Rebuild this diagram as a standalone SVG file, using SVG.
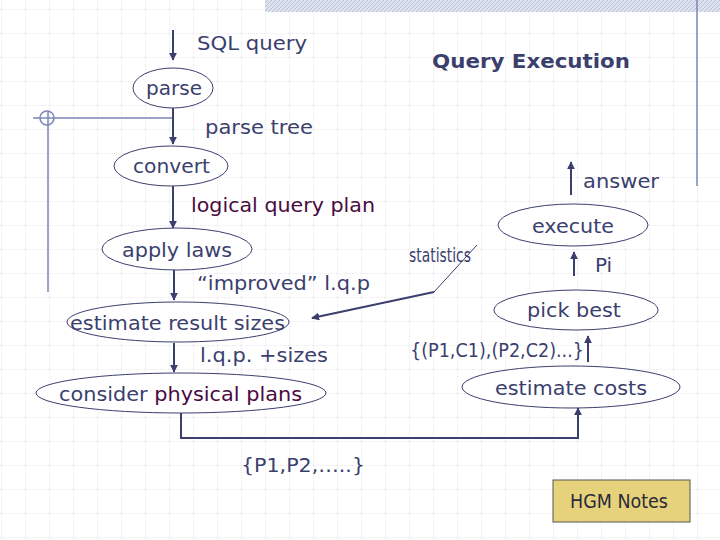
<svg xmlns="http://www.w3.org/2000/svg" width="720" height="540" viewBox="0 0 720 540">
<defs>
<pattern id="grid" width="24" height="24" patternUnits="userSpaceOnUse" x="2" y="10"><path d="M24 0V24M0 24H24" fill="none" stroke="#d4d4dc" stroke-width="1" stroke-dasharray="1,1"/></pattern>
<pattern id="hatch" width="4" height="4" patternUnits="userSpaceOnUse"><rect width="4" height="4" fill="#dfe3ef"/><path d="M0 4L4 0" stroke="#b8c0d8" stroke-width="1"/></pattern>
<marker id="ah" viewBox="0 0 10 10" refX="9" refY="5" markerWidth="4" markerHeight="4" orient="auto"><path d="M0 0L10 5L0 10z" fill="#3b3f6e"/></marker>
</defs>
<style>
text{font-family:"DejaVu Sans",sans-serif;fill:#3b3f6e;font-size:20px}
.e{fill:#fff;stroke:#3b3f6e;stroke-width:1}
.c{fill:none;stroke:#3b3f6e;stroke-width:2;marker-end:url(#ah)}
.p{fill:#4a0a3f}
</style>
<rect width="720" height="540" fill="#fff"/>
<rect width="720" height="540" fill="url(#grid)"/>
<rect x="265" y="0" width="455" height="12" fill="url(#hatch)"/>
<g id="decor" fill="none" stroke="#7c86b8" stroke-width="1.5">
<path d="M697 0V186"/><path d="M33 118H173"/><path d="M48 112V292"/><circle cx="47" cy="118" r="7"/>
</g>
<text x="432" y="68" font-weight="bold" font-size="22" textLength="198" lengthAdjust="spacingAndGlyphs">Query Execution</text>
<g id="connectors">
<path class="c" d="M173 30V60"/>
<path class="c" d="M173 108V144"/>
<path class="c" d="M173 186V228"/>
<path class="c" d="M174 270V300"/>
<path class="c" d="M174 343V372"/>
<path class="c" d="M571 195V162"/>
<path class="c" d="M574 276V252"/>
<path class="c" d="M588 362V336"/>
<path class="c" d="M181 413V438H578V408" stroke-width="1.5"/>
<path d="M477 245L434 292" fill="none" stroke="#3b3f6e" stroke-width="1"/>
<path class="c" d="M434 292L312 318" stroke-width="2.5"/>
</g>
<text x="197" y="50" textLength="110" lengthAdjust="spacingAndGlyphs">SQL query</text>
<text x="205" y="134" textLength="108" lengthAdjust="spacingAndGlyphs">parse tree</text>
<text x="191" y="212" class="p" textLength="184" lengthAdjust="spacingAndGlyphs">logical query plan</text>
<text x="197" y="290" textLength="173" lengthAdjust="spacingAndGlyphs">“improved” l.q.p</text>
<text x="200" y="362" textLength="128" lengthAdjust="spacingAndGlyphs">l.q.p. +sizes</text>
<text x="583" y="188" textLength="76" lengthAdjust="spacingAndGlyphs">answer</text>
<text x="595" y="272">Pi</text>
<text x="409" y="262" font-size="14" textLength="62" lengthAdjust="spacingAndGlyphs">statistics</text>
<text x="410" y="357" font-size="18" textLength="174" lengthAdjust="spacingAndGlyphs">{(P1,C1),(P2,C2)...}</text>
<text x="241" y="472" textLength="124" lengthAdjust="spacingAndGlyphs">{P1,P2,…..}</text>
<g id="parse"><ellipse class="e" cx="173" cy="88" rx="40" ry="20"/><text x="146" y="95" textLength="56" lengthAdjust="spacingAndGlyphs">parse</text></g>
<g id="convert"><ellipse class="e" cx="171" cy="166" rx="57" ry="20"/><text x="133" y="173" textLength="77" lengthAdjust="spacingAndGlyphs">convert</text></g>
<g id="apply"><ellipse class="e" cx="177" cy="249" rx="75" ry="21"/><text x="122" y="257" textLength="110" lengthAdjust="spacingAndGlyphs">apply laws</text></g>
<g id="estsizes"><ellipse class="e" cx="178" cy="322" rx="111" ry="20"/><text x="70" y="330" textLength="215" lengthAdjust="spacingAndGlyphs">estimate result sizes</text></g>
<g id="consider"><ellipse class="e" cx="181" cy="393" rx="145" ry="20"/><text x="59" y="401" textLength="243" lengthAdjust="spacingAndGlyphs">consider <tspan class="p">physical plans</tspan></text></g>
<g id="execute"><ellipse class="e" cx="573" cy="225" rx="75" ry="21"/><text x="532" y="233" textLength="82" lengthAdjust="spacingAndGlyphs">execute</text></g>
<g id="pickbest"><ellipse class="e" cx="576" cy="310" rx="82" ry="20"/><text x="527" y="317" textLength="94" lengthAdjust="spacingAndGlyphs">pick best</text></g>
<g id="estcosts"><ellipse class="e" cx="571" cy="387" rx="109" ry="21"/><text x="495" y="395" textLength="152" lengthAdjust="spacingAndGlyphs">estimate costs</text></g>
<g id="notes"><rect x="553" y="480" width="137" height="42" fill="#e6d27a" stroke="#555" stroke-width="1"/><text x="570" y="508" font-size="18" style="fill:#2a2a3a" textLength="98" lengthAdjust="spacingAndGlyphs">HGM Notes</text></g>
</svg>
